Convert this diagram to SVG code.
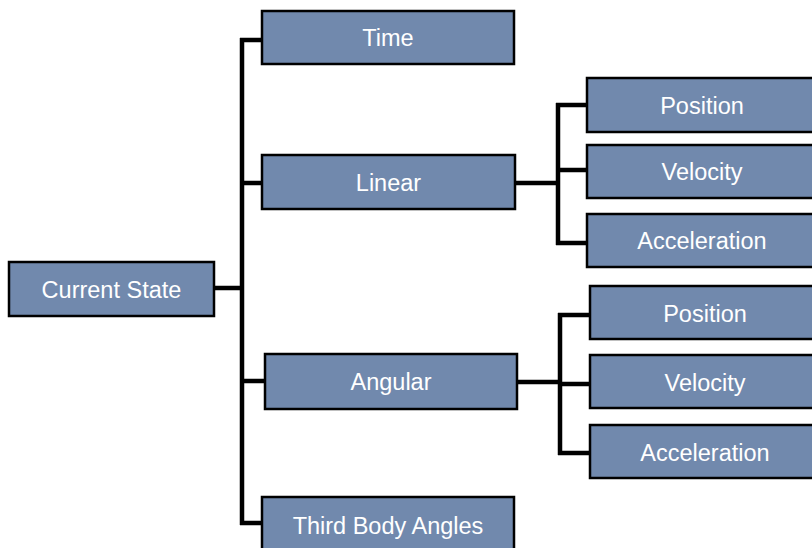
<svg xmlns="http://www.w3.org/2000/svg" width="812" height="548" viewBox="0 0 812 548">
<style>
.box{fill:#7189AD;stroke:#000;stroke-width:2.5}
.lbl{font-family:"Liberation Sans",Arial,Helvetica,sans-serif;font-size:23.5px;fill:#fff;text-anchor:middle}
.conn{fill:none;stroke:#000;stroke-width:4.5}
</style>
<rect width="812" height="548" fill="#fff"/>
<g id="connectors">
<path class="conn" d="M214 288H242M242 38V525M240 40H263M240 183H263M240 381H266M240 523H263"/>
<path class="conn" d="M515 183H558M558 103V245M556 105H588M556 170H588M556 243H588"/>
<path class="conn" d="M517 382H560M560 313V455M558 315H591M558 384H591M558 453H591"/>
</g>
<g id="current-state"><rect class="box" x="9" y="262" width="205" height="54"/><text class="lbl" x="111.5" y="298">Current State</text></g>
<g id="time"><rect class="box" x="262" y="11" width="252" height="53"/><text class="lbl" x="388" y="46">Time</text></g>
<g id="linear"><rect class="box" x="262" y="155" width="253" height="54"/><text class="lbl" x="388.5" y="190.5">Linear</text></g>
<g id="angular"><rect class="box" x="265" y="354" width="252" height="55"/><text class="lbl" x="391" y="390">Angular</text></g>
<g id="third-body-angles"><rect class="box" x="262" y="497" width="252" height="58"/><text class="lbl" x="388" y="533.5">Third Body Angles</text></g>
<g id="lin-position"><rect class="box" x="587" y="78" width="232" height="54"/><text class="lbl" x="702" y="113.5">Position</text></g>
<g id="lin-velocity"><rect class="box" x="587" y="145" width="232" height="53"/><text class="lbl" x="702" y="180">Velocity</text></g>
<g id="lin-acceleration"><rect class="box" x="587" y="214" width="232" height="53"/><text class="lbl" x="702" y="249">Acceleration</text></g>
<g id="ang-position"><rect class="box" x="590" y="286" width="232" height="53"/><text class="lbl" x="705" y="322">Position</text></g>
<g id="ang-velocity"><rect class="box" x="590" y="355" width="232" height="53"/><text class="lbl" x="705" y="391">Velocity</text></g>
<g id="ang-acceleration"><rect class="box" x="590" y="425" width="232" height="53"/><text class="lbl" x="705" y="461">Acceleration</text></g>
</svg>
